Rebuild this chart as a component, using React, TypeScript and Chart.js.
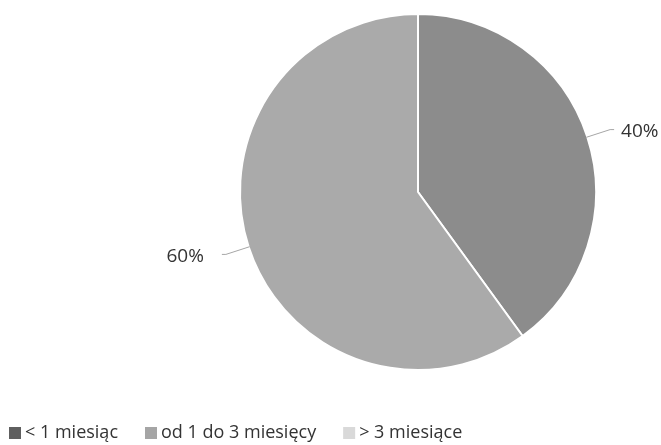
import React, { useEffect, useRef } from "react";
import { Chart, registerables } from "chart.js";

Chart.register(...registerables);

const categories = ["< 1 miesiąc", "od 1 do 3 miesięcy", "> 3 miesiące"];
const values = [40, 60, 0];
const sliceColors = ["#8c8c8c", "#aaaaaa", "#d9d9d9"];
const legendColors = ["#5f5f5f", "#a5a5a5", "#d9d9d9"];

const FONT = "'Open Sans', sans-serif";
const TEXT_COLOR = "#333333";

// Percentage labels with leader lines outside each slice
const outsideLabels = {
  id: "outsideLabels",
  afterDatasetsDraw(chart: any) {
    const { ctx } = chart;
    const meta = chart.getDatasetMeta(0);
    const data = chart.data.datasets[0].data as number[];
    const total = data.reduce((a, b) => a + b, 0);
    ctx.save();
    ctx.font = `19px ${FONT}`;
    ctx.fillStyle = TEXT_COLOR;
    ctx.textBaseline = "middle";
    meta.data.forEach((arc: any, i: number) => {
      if (!data[i]) return;
      const { x, y, startAngle, endAngle, outerRadius } = arc.getProps(
        ["x", "y", "startAngle", "endAngle", "outerRadius"],
        true
      );
      const mid = (startAngle + endAngle) / 2;
      const cos = Math.cos(mid);
      const sin = Math.sin(mid);
      const x0 = x + cos * (outerRadius - 1);
      const y0 = y + sin * (outerRadius - 1);
      const x1 = x + cos * (outerRadius + 24);
      const y1 = y + sin * (outerRadius + 24);
      const right = cos >= 0;
      const x2 = x1 + (right ? 4 : -4);
      ctx.strokeStyle = "#a6a6a6";
      ctx.lineWidth = 1;
      ctx.beginPath();
      ctx.moveTo(x0, y0);
      ctx.lineTo(x1, y1);
      ctx.lineTo(x2, y1);
      ctx.stroke();
      const label = `${Math.round((data[i] / total) * 100)}%`;
      ctx.textAlign = right ? "left" : "right";
      ctx.fillText(label, x2 + (right ? 7 : -18), y1 + 2);
    });
    ctx.restore();
  },
};

// Legend row along the bottom-left edge
const bottomLegend = {
  id: "bottomLegend",
  afterDraw(chart: any) {
    const { ctx } = chart;
    ctx.save();
    ctx.font = `18px ${FONT}`;
    ctx.textBaseline = "middle";
    ctx.textAlign = "left";
    let x = 9;
    const y = 433;
    const box = 12;
    categories.forEach((c, i) => {
      ctx.fillStyle = legendColors[i];
      ctx.fillRect(x, y - box / 2, box, box);
      ctx.fillStyle = TEXT_COLOR;
      ctx.fillText(c, x + box + 4, y);
      x += box + 4 + ctx.measureText(c).width + 27;
    });
    ctx.restore();
  },
};

export default function App() {
  const ref = useRef<HTMLCanvasElement | null>(null);
  useEffect(() => {
    if (!ref.current) return;
    const chart = new Chart(ref.current, {
      type: "pie",
      data: {
        labels: categories,
        datasets: [
          {
            data: values,
            backgroundColor: sliceColors,
            borderColor: "#ffffff",
            borderWidth: 2,
          },
        ],
      },
      options: {
        animation: false,
        responsive: false,
        layout: { padding: { left: 239, right: 64, top: 13, bottom: 74 } },
        plugins: {
          legend: { display: false },
          tooltip: { enabled: false },
        },
      },
      plugins: [outsideLabels, bottomLegend],
    });
    return () => chart.destroy();
  }, []);
  return (
    <div style={{ position: "fixed", left: 0, top: 0, width: 661, height: 445, background: "#fff" }}>
      <canvas ref={ref} width={661} height={445} style={{ display: "block" }} />
    </div>
  );
}
